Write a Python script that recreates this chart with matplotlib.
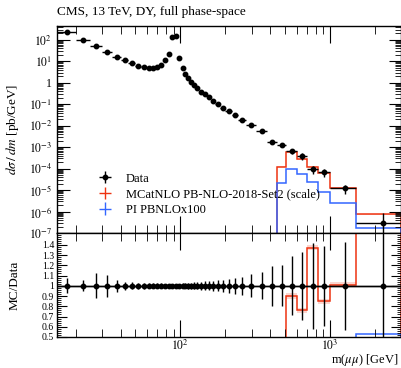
import numpy as np
import matplotlib
matplotlib.use("Agg")
import matplotlib.pyplot as plt
from matplotlib.ticker import FixedLocator, FixedFormatter, NullFormatter, MultipleLocator

plt.rcParams['font.family'] = 'serif'
plt.rcParams['font.serif'] = ['Liberation Serif', 'DejaVu Serif']
plt.rcParams['mathtext.fontset'] = 'stix'

# bin edges of m(mumu) [GeV]
edges = np.array([15, 20, 25, 30, 35, 40, 45, 50, 55, 60, 64, 68, 72, 76, 81, 86, 91, 96,
                  101, 106, 110, 115, 120, 126, 133, 141, 150, 160, 171, 185, 200, 220,
                  243, 273, 320, 380, 440, 510, 600, 700, 830, 1000, 1500, 3000])

# data: dsigma/dm [pb/GeV]
data_y = np.array([245, 100, 54, 28.5, 16.6, 11.7, 8.7, 6.3, 5.3, 5.1, 5.1, 5.5, 6.8,
                   11.3, 21.5, 143, 154, 14, 5.1, 2.6, 1.75, 1.14, 0.77, 0.56, 0.39,
                   0.29, 0.22, 0.143, 0.100, 0.0695, 0.049, 0.0318, 0.0180, 0.0108,
                   5.9e-3, 1.8e-3, 1.26e-3, 6.6e-4, 3.9e-4, 9.6e-5, 6.8e-5, 1.2e-5, 3.0e-7])
# relative data uncertainty
data_rel = np.array([0.074, 0.054, 0.12, 0.106, 0.057, 0.04, 0.034, 0.03, 0.028, 0.026,
                     0.025, 0.025, 0.024, 0.022, 0.022, 0.02, 0.02, 0.022, 0.024, 0.026,
                     0.028, 0.03, 0.032, 0.035, 0.038, 0.042, 0.046, 0.05, 0.055, 0.06,
                     0.07, 0.08, 0.09, 0.114, 0.134, 0.196, 0.2, 0.29, 0.33, 0.42, 0.39,
                     0.43, 2.0])

# MC predictions, bins from 440 GeV upwards
mc_edges = np.array([440, 510, 600, 700, 830, 1000, 1500, 3000])
mcatnlo_y = np.array([1.2e-4, 6.2e-4, 2.7e-4, 1.2e-4, 6.5e-5, 1.26e-5, 7.4e-7])
pb_y = np.array([2.2e-5, 9.6e-5, 5.5e-5, 2.5e-5, 8.3e-6, 2.6e-6, 1.65e-7])
mc_ratio = np.array([0.1, 0.90, 0.76, 1.37, 0.85, 1.01, 2.5])
pb_ratio = np.array([0.05, 0.15, 0.14, 0.2, 0.12, 0.21, 0.53])

red = '#EE3311'
blue = '#3366FF'

fig = plt.figure(figsize=(4.02, 3.68), dpi=100)
ax = fig.add_axes([57 / 402, 1 - 233 / 368, 344.5 / 402, 207 / 368])
rax = fig.add_axes([57 / 402, 1 - 337 / 368, 344.5 / 402, 104 / 368], sharex=ax)

centers = 0.5 * (edges[:-1] + edges[1:])
xerr = [centers - edges[:-1], edges[1:] - centers]
yerr_lo = np.minimum(data_rel, 0.999) * data_y
yerr_hi = data_rel * data_y

# main panel
ax.fill_between(mc_edges, np.append(mcatnlo_y, mcatnlo_y[-1]) * 0.95,
                np.append(mcatnlo_y, mcatnlo_y[-1]) * 1.05, step='post',
                color=red, alpha=0.2, lw=0)
ax.stairs(mcatnlo_y, mc_edges, baseline=1e-12, color=red, lw=1.1)
ax.stairs(pb_y, mc_edges, baseline=1e-12, color=blue, lw=1.1)
ax.errorbar(centers, data_y, xerr=xerr, yerr=[yerr_lo, yerr_hi], fmt='o', color='black',
            ms=3.2, elinewidth=1.0, capsize=0, zorder=5)

# legend handles
h_data = ax.errorbar([np.nan], [np.nan], xerr=[1], yerr=[1], fmt='o', color='black', ms=3.2,
                     elinewidth=1.0, label='Data')
h_mc = ax.errorbar([np.nan], [np.nan], xerr=[1], yerr=[1], fmt='none', color=red,
                   elinewidth=1.0, label='MCatNLO PB-NLO-2018-Set2 (scale)')
h_pb = ax.errorbar([np.nan], [np.nan], xerr=[1], yerr=[1], fmt='none', color=blue,
                   elinewidth=1.0, label='PI PBNLOx100')
ax.legend(handles=[h_data, h_mc, h_pb], loc='upper left', bbox_to_anchor=(0.098, 0.292),
          frameon=False, fontsize=9, handlelength=2.3, handletextpad=0.5,
          labelspacing=0.3, borderpad=0, borderaxespad=0)

ax.set_xscale('log')
ax.set_yscale('log')
ax.set_xlim(15, 3000)
ax.set_ylim(1e-7, 10 ** 2.65)
ydec = [10.0 ** k for k in range(-7, 3)]
ylabels = ['$10^{-7}$', '$10^{-6}$', '$10^{-5}$', '$10^{-4}$', '$10^{-3}$', '$10^{-2}$',
           '$10^{-1}$', '1', '$10^{1}$', '$10^{2}$']
ax.yaxis.set_major_locator(FixedLocator(ydec))
ax.yaxis.set_major_formatter(FixedFormatter(ylabels))
yminor = [m * 10.0 ** k for k in range(-8, 3) for m in range(2, 10)]
ax.yaxis.set_minor_locator(FixedLocator(yminor))
ax.yaxis.set_minor_formatter(NullFormatter())
ax.set_ylabel(r'$d\sigma\,/\,dm$ [pb/GeV]', fontsize=9.5)
ax.tick_params(labelbottom=False)
ax.text(0.0, 1.04, 'CMS, 13 TeV, DY, full phase-space', transform=ax.transAxes,
        fontsize=9.5, ha='left', va='bottom')

# ratio panel
rax.axhline(1.0, color='black', lw=1.0, zorder=3)
rax.fill_between(mc_edges, np.append(mc_ratio, mc_ratio[-1]) - 0.025,
                 np.append(mc_ratio, mc_ratio[-1]) + 0.025, step='post',
                 color=red, alpha=0.2, lw=0)
rax.stairs(mc_ratio, mc_edges, baseline=0, color=red, lw=1.1)
rax.stairs(pb_ratio, mc_edges, baseline=0, color=blue, lw=1.1)
rax.errorbar(centers, np.ones_like(centers), xerr=xerr, yerr=data_rel, fmt='o',
             color='black', ms=3.2, elinewidth=1.0, capsize=0, zorder=5)
rax.set_ylim(0.5, 1.515)
rax.yaxis.set_major_locator(FixedLocator(np.round(np.arange(0.5, 1.45, 0.1), 1)))
rax.yaxis.set_major_formatter(FixedFormatter(['0.5', '0.6', '0.7', '0.8', '0.9', '1',
                                              '1.1', '1.2', '1.3', '1.4']))
rax.yaxis.set_minor_locator(MultipleLocator(0.02))
rax.set_ylabel('MC/Data', fontsize=9.5)
rax.xaxis.set_major_locator(FixedLocator([100, 1000]))
rax.xaxis.set_major_formatter(FixedFormatter(['$10^{2}$', '$10^{3}$']))
rax.xaxis.set_minor_locator(FixedLocator([m * 10.0 ** k for k in (1, 2, 3) for m in range(2, 10)]))
rax.xaxis.set_minor_formatter(NullFormatter())
rax.set_xlabel(r'm($\mu\mu$) [GeV]', fontsize=9, ha='right')
rax.xaxis.set_label_coords(0.992, -0.14)

for a in (ax, rax):
    a.tick_params(which='both', direction='in', top=True, right=True, labelsize=8.5)
    a.tick_params(which='major', length=9, width=0.8)
    a.tick_params(which='minor', length=4, width=0.6)
    a.tick_params(axis='x', which='minor', length=6)
    a.tick_params(axis='x', which='major', length=12, pad=1.5)
    for s in a.spines.values():
        s.set_linewidth(1.0)
rax.tick_params(axis='y', which='major', length=7, labelsize=7, pad=2)
rax.tick_params(axis='y', which='minor', length=3)
ax.yaxis.set_label_coords(-0.105, 0.5)
rax.yaxis.set_label_coords(-0.105, 0.5)

fig.savefig('out.png', dpi=100)
